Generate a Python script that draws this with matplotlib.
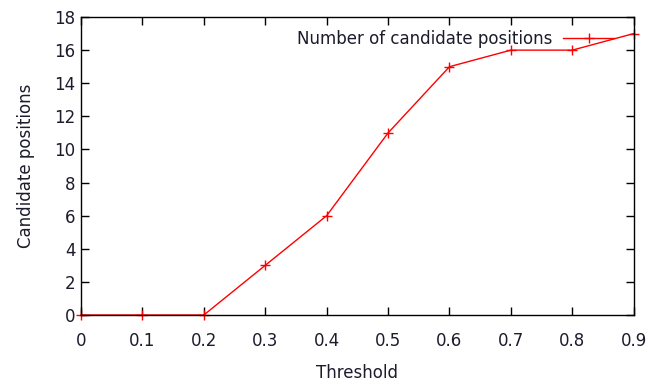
import matplotlib as mpl
mpl.use("Agg")
import matplotlib.pyplot as plt

threshold = [0, 0.1, 0.2, 0.3, 0.4, 0.5, 0.6, 0.7, 0.8, 0.9]
positions = [0, 0, 0, 3, 6, 11, 15, 16, 16, 17]

plt.rcParams['font.family'] = ['DejaVu Sans']
plt.rcParams['font.size'] = 12
plt.rcParams['text.color'] = '#1c1c2c'

fig = plt.figure(figsize=(6.5, 3.85), dpi=100)
ax = fig.add_axes([0.1246, 0.1818, 0.975 - 0.1246, 0.9558 - 0.1818])

ax.plot(threshold, positions, color='#ff0000', lw=1, marker='+', ms=7,
        mew=1, label='Number of candidate positions', clip_on=False)

ax.set_xlim(0, 0.9)
ax.set_ylim(0, 18)
ax.set_xticks(threshold)
ax.set_xticklabels(['0', '0.1', '0.2', '0.3', '0.4', '0.5', '0.6', '0.7', '0.8', '0.9'])
ax.set_yticks(range(0, 19, 2))
ax.tick_params(direction='in', top=True, right=True, length=6, width=1,
               colors='black', labelcolor='#1c1c2c')
ax.tick_params(axis='x', pad=12)
ax.tick_params(axis='y', pad=4)
for s in ax.spines.values():
    s.set_linewidth(1)

ax.set_xlabel('Threshold', labelpad=10, color='#1c1c2c')
ax.set_ylabel('Candidate positions', labelpad=14, color='#1c1c2c')

ax.legend(loc='center right', frameon=False, markerfirst=False,
          handlelength=3.1, handletextpad=0.6, borderaxespad=0.0,
          borderpad=0.0, bbox_to_anchor=(0.965, 0.927))

plt.savefig('out.png')
